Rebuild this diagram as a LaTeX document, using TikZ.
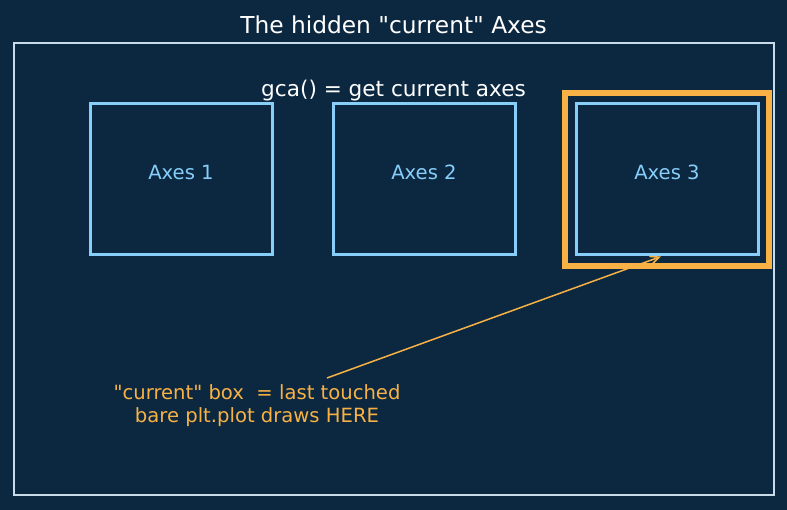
\documentclass[tikz,border=0pt]{standalone}
\usepackage{fontspec}
\setmainfont{DejaVu Sans}[Ligatures=TeXOff]
\usetikzlibrary{arrows.meta}
\begin{document}
\begin{tikzpicture}[x=1pt,y=-1pt,
  axbox/.style={draw=axblue,line width=3pt,minimum width=182pt,minimum height=151pt,inner sep=0pt},
  axlabel/.style={text=axblue,font=\fontsize{19.6}{23}\selectfont},
  curbox/.style={draw=curorange,line width=6pt,minimum width=204pt,minimum height=173pt,inner sep=0pt},
  ann/.style={text=curorange,font=\fontsize{19.6}{22.5}\selectfont,align=center},
]
\definecolor{bg}{HTML}{0B2840}
\definecolor{axblue}{HTML}{87CEFA}
\definecolor{curorange}{HTML}{F8B144}
\definecolor{frame}{HTML}{C8DCEA}
\fill[bg] (0,0) rectangle (787,510);
\useasboundingbox (0,0) rectangle (787,510);
\node[text=white,font=\fontsize{23.3}{27}\selectfont] (title) at (393.5,25) {The hidden "current" Axes};
\node[draw=frame,line width=1.6pt,minimum width=760pt,minimum height=452pt,inner sep=0pt] (fig) at (394,269) {};
\node[text=white,font=\fontsize{21.6}{25}\selectfont] (gca) at (393.5,90.5) {gca() = get current axes};
\node[axbox] (a1) at (181,179.5) {};
\node[axbox] (a2) at (424,179.5) {};
\node[axbox] (a3) at (667,179.5) {};
\node[axlabel] (l1) at ([yshift=7.5pt]a1.center) {Axes 1};
\node[axlabel] (l2) at ([yshift=7.5pt]a2.center) {Axes 2};
\node[axlabel] (l3) at ([yshift=7.5pt]a3.center) {Axes 3};
\node[curbox] (cur) at (667,179.5) {};
\node[ann] (note) at (257,405.5) {"current" box\ \ = last touched\\bare plt.plot draws HERE};
\coordinate (start) at (327,378);
\coordinate (tip) at ([xshift=-6pt]a3.south);
\draw[curorange,line width=1.5pt,-{Straight Barb[length=9pt,width=8pt]}] (start) -- (tip);
\end{tikzpicture}
\end{document}
